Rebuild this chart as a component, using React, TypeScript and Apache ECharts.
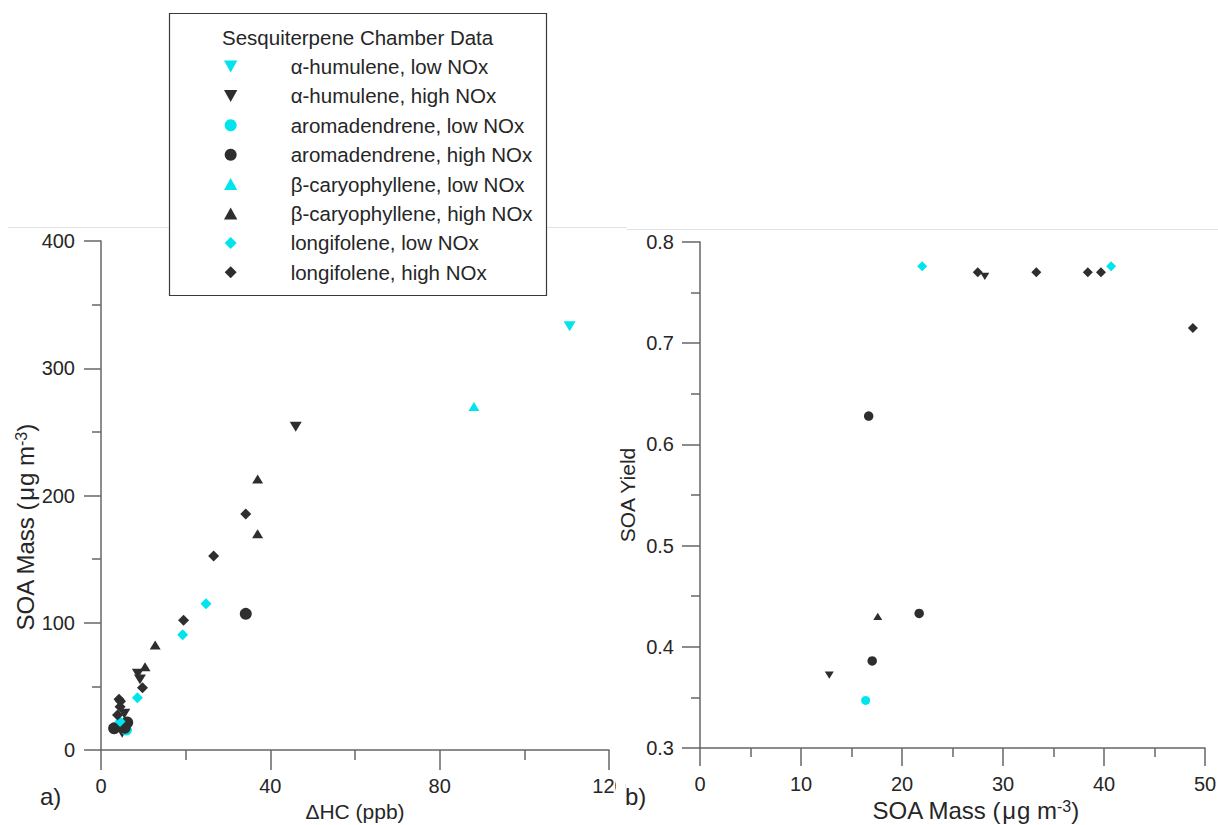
import React, { useEffect, useRef } from 'react';
import * as echarts from 'echarts';

// ---------- data ----------
const seriesNames = [
  'α-humulene, low NOx',
  'α-humulene, high NOx',
  'aromadendrene, low NOx',
  'aromadendrene, high NOx',
  'β-caryophyllene, low NOx',
  'β-caryophyllene, high NOx',
  'longifolene, low NOx',
  'longifolene, high NOx',
];

// panel a) : [ΔHC (ppb), SOA mass (µg m-3)]
const humuleneLowA = [[110.7, 333]];
const humuleneHighA = [[46, 254], [8.7, 60], [9.2, 55.5], [5.5, 28.5], [5.0, 13.5]];
const aromaLowA = [[6.0, 15.8]];
const aromaHighA = [[34.2, 107], [3.1, 17], [6.2, 21.7], [5.6, 17.5]];
const caryoLowA = [[88.1, 270]];
const caryoHighA = [[37, 213], [37, 170], [12.8, 82.5], [10.4, 65.5], [4.6, 17.6]];
const longiLowA = [[24.8, 115], [19.3, 90.5], [8.6, 41], [4.5, 22.3]];
const longiHighA = [[34.2, 185.5], [26.6, 152.5], [19.5, 102], [9.8, 49], [4.25, 39.8], [4.6, 38.4], [4.5, 34], [3.9, 27.5]];

// panel b) : [SOA mass (µg m-3), SOA yield]
const humuleneLowB: number[][] = [];
const humuleneHighB = [[28.2, 0.766], [12.8, 0.372]];
const aromaLowB = [[16.4, 0.347]];
const aromaHighB = [[16.7, 0.628], [21.7, 0.433], [17.05, 0.386]];
const caryoLowB: number[][] = [];
const caryoHighB = [[17.6, 0.43]];
const longiLowB = [[22.0, 0.776], [40.7, 0.776]];
const longiHighB = [[27.5, 0.77], [33.3, 0.77], [38.4, 0.77], [39.7, 0.77], [48.8, 0.715]];

const xTicksA = [0, 40, 80, 120];
const yTicksA = [0, 100, 200, 300, 400];
const xTicksB = [0, 10, 20, 30, 40, 50];
const yTicksB = [0.3, 0.4, 0.5, 0.6, 0.7, 0.8];

// ---------- styles ----------
const CYAN = '#00E4EE';
const DARK = '#2e2e2e';
const TEXT = '#262626';
const AXIS = '#666666';
const FONT = '"Liberation Sans", Arial, sans-serif';

const DOWN = 'path://M0,0L10,0L5,9Z';
const UP = 'path://M5,0L10,9L0,9Z';
const DIAMOND = 'path://M5,0L10,5L5,10L0,5Z';

const kinds = [
  { a: humuleneLowA, b: humuleneLowB, color: CYAN, symbol: DOWN, sa: [12, 11], sb: [9, 8] },
  { a: humuleneHighA, b: humuleneHighB, color: DARK, symbol: DOWN, sa: [12, 11], sb: [9, 8] },
  { a: aromaLowA, b: aromaLowB, color: CYAN, symbol: 'circle', sa: 11, sb: 9 },
  { a: aromaHighA, b: aromaHighB, color: DARK, symbol: 'circle', sa: 12, sb: 9.5 },
  { a: caryoLowA, b: caryoLowB, color: CYAN, symbol: UP, sa: [11, 10], sb: [9, 8] },
  { a: caryoHighA, b: caryoHighB, color: DARK, symbol: UP, sa: [11, 10], sb: [9, 8] },
  { a: longiLowA, b: longiLowB, color: CYAN, symbol: DIAMOND, sa: 11, sb: 10 },
  { a: longiHighA, b: longiHighB, color: DARK, symbol: DIAMOND, sa: 11, sb: 10 },
];

const labelStyle = { fontSize: 20, color: TEXT, fontFamily: FONT };
const massBody = '{n|SOA Mass (}{mu|μ}{n|g m}{s|-3}{n|)}';

function makeAxis(gridIndex: number, min: number, max: number, interval: number, ticks: number[], opts: any) {
  return {
    type: 'value',
    gridIndex,
    min,
    max,
    interval,
    axisLine: { show: true, onZero: false, lineStyle: { color: AXIS, width: 1.5 } },
    axisTick: { show: true, length: opts.tick, lineStyle: { color: AXIS, width: 1.5 } },
    minorTick: { show: true, splitNumber: 2, length: opts.minor, lineStyle: { color: AXIS, width: 1.5 } },
    splitLine: { show: false },
    minorSplitLine: { show: false },
    axisLabel: {
      ...labelStyle,
      margin: opts.margin,
      formatter: (v: number) => {
        const hit = ticks.find((t) => Math.abs(t - v) < 1e-9);
        return hit === undefined ? '' : opts.fmt(hit);
      },
    },
    name: opts.name,
    nameLocation: 'middle',
    nameGap: opts.gap,
    nameTextStyle: {
      ...labelStyle,
      fontSize: opts.nameSize || 20,
      rich: {
        n: { fontSize: 24, color: TEXT, fontFamily: FONT },
        mu: { fontSize: 24, color: TEXT, fontFamily: FONT, padding: [0, 1, 0, 1] },
        s: { fontSize: 16, color: TEXT, fontFamily: FONT, verticalAlign: 'top', lineHeight: 16 },
        g46: { width: 46, fontSize: 24 },
        g64: { width: 64, fontSize: 24 },
      },
    },
  };
}

export default function App() {
  const ref = useRef<HTMLDivElement>(null);

  useEffect(() => {
    if (!ref.current) return;
    const chart = echarts.init(ref.current, undefined, { renderer: 'svg' });

    const series: any[] = [];
    kinds.forEach((k, i) => {
      series.push({
        type: 'scatter',
        name: seriesNames[i],
        xAxisIndex: 0,
        yAxisIndex: 0,
        data: k.a,
        symbol: k.symbol,
        symbolSize: k.sa,
        symbolKeepAspect: true,
        itemStyle: { color: k.color, opacity: 1 },
        emphasis: { disabled: true },
        z: i,
      });
      series.push({
        type: 'scatter',
        name: seriesNames[i],
        xAxisIndex: 1,
        yAxisIndex: 1,
        data: k.b,
        symbol: k.symbol,
        symbolSize: k.sb,
        symbolKeepAspect: true,
        itemStyle: { color: k.color, opacity: 1 },
        emphasis: { disabled: true },
        z: i,
      });
    });

    chart.setOption({
      animation: false,
      backgroundColor: '#ffffff',
      textStyle: { fontFamily: FONT },
      grid: [
        { left: 101, top: 241, width: 508, height: 509, outerBoundsMode: 'none', containLabel: false },
        { left: 700, top: 242, width: 505, height: 506, outerBoundsMode: 'none', containLabel: false },
      ],
      xAxis: [
        makeAxis(0, 0, 120, 40, xTicksA, { tick: 20, minor: 10, margin: 26, gap: 51, name: 'ΔHC (ppb)', nameSize: 21, fmt: (v: number) => String(v) }),
        makeAxis(1, 0, 50, 10, xTicksB, { tick: 18, minor: 9, margin: 26, gap: 47, name: '{g46|}' + massBody, fmt: (v: number) => String(v) }),
      ],
      yAxis: [
        makeAxis(0, 0, 400, 100, yTicksA, { tick: 17, minor: 9, margin: 26, gap: 62, name: massBody + '{g64|}', fmt: (v: number) => String(v) }),
        makeAxis(1, 0.3, 0.8, 0.1, yTicksB, { tick: 18, minor: 9, margin: 26, gap: 62, name: 'SOA Yield', nameSize: 21, fmt: (v: number) => v.toFixed(1) }),
      ],
      legend: {
        orient: 'vertical',
        left: 224,
        top: 56,
        itemWidth: 110,
        itemHeight: 12,
        itemGap: 8.4,
        padding: 0,
        selectedMode: false,
        symbolKeepAspect: true,
        textStyle: { fontSize: 20.5, color: TEXT, fontFamily: FONT },
        data: seriesNames.map((n, i) => ({ name: n, icon: kinds[i].symbol })),
        z: 20,
      },
      graphic: [
        { type: 'line', shape: { x1: 8, y1: 227.5, x2: 627, y2: 227.5 }, style: { stroke: '#e3e3e3', lineWidth: 1 }, z: 0 },
        { type: 'line', shape: { x1: 627, y1: 229.5, x2: 1218, y2: 229.5 }, style: { stroke: '#e3e3e3', lineWidth: 1 }, z: 0 },
        { type: 'rect', shape: { x: 169.5, y: 13.5, width: 377, height: 282 }, style: { fill: '#ffffff', stroke: '#3a3a3a', lineWidth: 1.2 }, z: 10 },
        {
          type: 'text', x: 222, y: 37, z: 21,
          style: { text: 'Sesquiterpene Chamber Data', fontSize: 20.5, fontFamily: FONT, fill: TEXT, verticalAlign: 'middle' },
        },
        { type: 'rect', shape: { x: 616, y: 772, width: 9, height: 28 }, style: { fill: '#ffffff' }, z: 100 },
        {
          type: 'text', x: 40, y: 796, z: 21,
          style: { text: 'a)', fontSize: 24, fontFamily: FONT, fill: TEXT, verticalAlign: 'middle' },
        },
        {
          type: 'text', x: 625, y: 796, z: 21,
          style: { text: 'b)', fontSize: 24, fontFamily: FONT, fill: TEXT, verticalAlign: 'middle' },
        },
      ],
      series,
    });

    return () => chart.dispose();
  }, []);

  return <div ref={ref} style={{ position: 'fixed', left: 0, top: 0, width: 1218, height: 825 }} />;
}
